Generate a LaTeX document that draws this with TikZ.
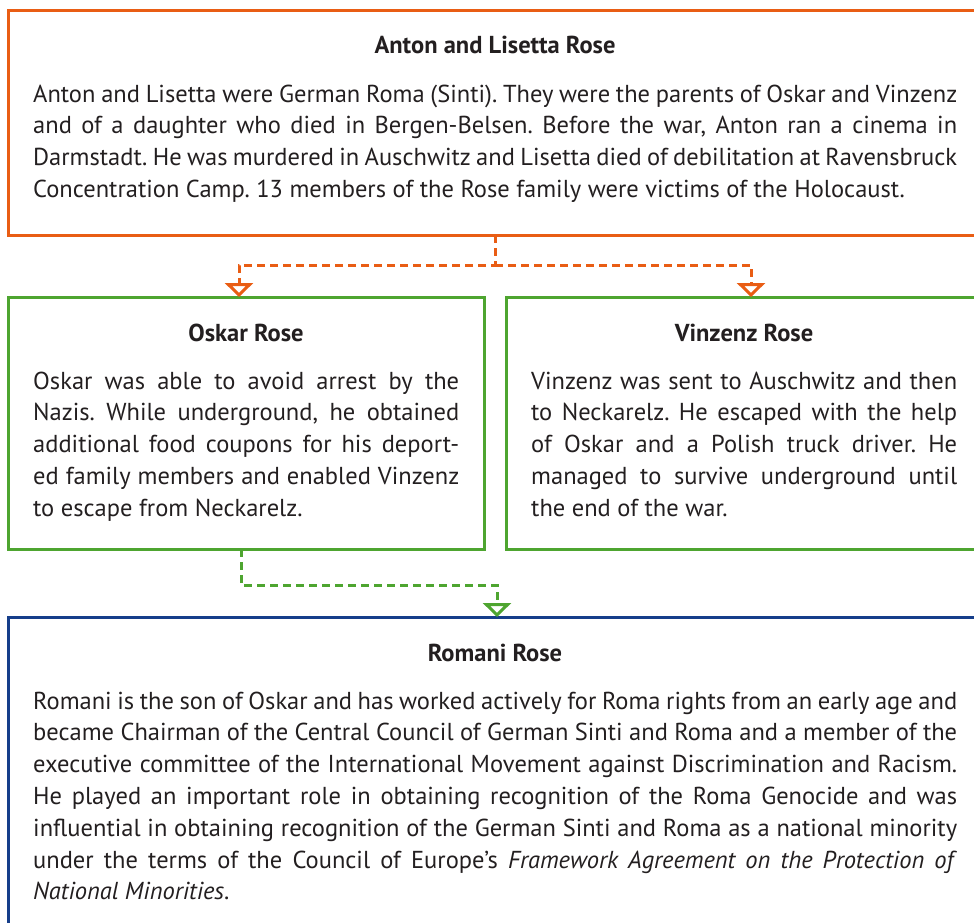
\documentclass[tikz,border=0pt]{standalone}
\usepackage{fontspec}
\setmainfont{PT Sans}
\usetikzlibrary{arrows.meta, calc}

\definecolor{roseorange}{RGB}{233,93,20}
\definecolor{rosegreen}{RGB}{78,165,48}
\definecolor{roseblue}{RGB}{22,62,138}
\definecolor{textblack}{RGB}{35,31,32}

\newcommand\bodyfont{\fontsize{24.5}{31.8}\selectfont\frenchspacing\hyphenpenalty 10000\relax}

\tikzset{
	box/.style={draw, line width=3pt, outer sep=0pt, inner sep=0pt, anchor=north west},
	boxtitle/.style={font=\fontsize{24.5}{30}\selectfont\bfseries, text=textblack, anchor=base},
	boxtext/.style={font=\bodyfont, text=textblack, align=justify, inner sep=0pt, anchor=base west},
	link/.style={line width=3pt, dash pattern=on 8pt off 5pt, -{Triangle[open, width=28pt, length=14pt, line width=3pt]}}
}

\begin{document}
\begin{tikzpicture}[x=1pt, y=-1pt]
	% Page frame (boxes run off the right edge)
	\useasboundingbox (0,0) rectangle (974,922);
	\clip (0,0) rectangle (974,922);

	% Boxes
	\node[box, draw=roseorange, minimum width=974pt, minimum height=225pt] (anton) at (8,10) {};
	\node[box, draw=rosegreen, minimum width=476pt, minimum height=252pt] (oskar) at (8,297) {};
	\node[box, draw=rosegreen, minimum width=476pt, minimum height=252pt] (vinzenz) at (506,297) {};
	\node[box, draw=roseblue, minimum width=974pt, minimum height=360pt] (romani) at (8,617) {};

	% Titles
	\node[boxtitle] (antontitle) at (495,53) {Anton and Lisetta Rose};
	\node[boxtitle] (oskartitle) at (246,341) {Oskar Rose};
	\node[boxtitle] (vinzenztitle) at (744,341) {Vinzenz Rose};
	\node[boxtitle] (romanititle) at (495,661) {Romani Rose};

	% Texts
	\node[boxtext, text width=924pt] (antontext) at (33,102) {Anton and Lisetta were German Roma (Sinti). They were the parents of Oskar and Vinzenz\linebreak
		and of a daughter who died in Bergen-Belsen. Before the war, Anton ran a cinema in\linebreak
		Darmstadt. He was murdered in Auschwitz and Lisetta died of debilitation at Ravensbruck\linebreak
		Concentration Camp. 13 members of the Rose family were victims of the Holocaust.};
	\node[boxtext, text width=426pt] (oskartext) at (33,389) {Oskar was able to avoid arrest by the\linebreak
		Nazis. While underground, he obtained\linebreak
		additional food coupons for his deport-\linebreak
		ed family members and enabled Vinzenz\linebreak
		to escape from Neckarelz.};
	\node[boxtext, text width=426pt] (vinzenztext) at (531,389) {Vinzenz was sent to Auschwitz and then\linebreak
		to Neckarelz. He escaped with the help\linebreak
		of Oskar and a Polish truck driver. He\linebreak
		managed to survive underground until\linebreak
		the end of the war.};
	\node[boxtext, text width=924pt] (romanitext) at (33,709) {Romani is the son of Oskar and has worked actively for Roma rights from an early age and\linebreak
		became Chairman of the Central Council of German Sinti and Roma and a member of the\linebreak
		executive committee of the International Movement against Discrimination and Racism.\linebreak
		He played an important role in obtaining recognition of the Roma Genocide and was\linebreak
		influential in obtaining recognition of the German Sinti and Roma as a national minority\linebreak
		under the terms of the Council of Europe’s \textit{Framework Agreement on the Protection of}\linebreak
		\textit{National Minorities}.};

	% Links
	\coordinate (split) at ($(anton.south)+(0,30)$);
	\draw[link, roseorange] (anton.south) -- (split) -| ($(oskar.north)+(-7,0)$);
	\draw[link, roseorange] (split) -| ($(vinzenz.north)+(7,0)$);
	\draw[link, rosegreen] ($(oskar.south)+(-5,0)$) -- ++(0,36) -| ($(romani.north)+(2,0)$);

\end{tikzpicture}
\end{document}
